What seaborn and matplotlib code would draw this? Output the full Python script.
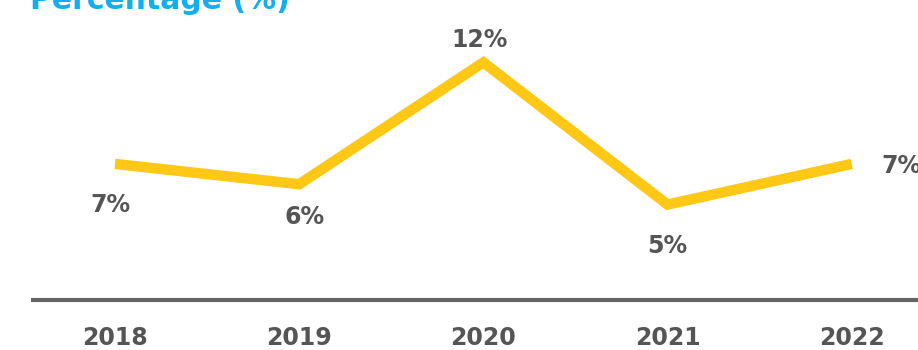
import matplotlib
matplotlib.use("Agg")
import matplotlib.pyplot as plt
import seaborn as sns
import pandas as pd

years = ["2018", "2019", "2020", "2021", "2022"]
values = [7, 6, 12, 5, 7]
labels = ["7%", "6%", "12%", "5%", "7%"]
# label offsets in pixels relative to each point
label_dx = [-5, 5, -4, 0, 50]
label_dy = [-41, -33, 22, -41, -2]

LINE = "#FFC815"
TEXT = "#555555"
TITLE = "#12AEEF"

sns.set_theme(style="white")
plt.rcParams["font.family"] = ["DejaVu Sans"]

fig = plt.figure(figsize=(9.18, 3.5), dpi=100)
ax = fig.add_axes([33 / 918, 50 / 350, 1 - 33 / 918, 300 / 350])

df = pd.DataFrame({"year": years, "value": values})
sns.lineplot(data=df, x="year", y="value", ax=ax, color=LINE, linewidth=7.5,
             solid_capstyle="butt", solid_joinstyle="miter")

for i, (v, lab) in enumerate(zip(values, labels)):
    ax.annotate(lab, (i, v), xytext=(label_dx[i], label_dy[i]),
                textcoords="offset pixels", ha="center", va="center",
                fontsize=17, fontweight="bold", color=TEXT)

ax.set_xlim(-0.445, 4.36)
ax.set_ylim(0.3, 15.07)
ax.set_xlabel("")
ax.set_ylabel("")
ax.set_yticks([])
for s in ["top", "left", "right"]:
    ax.spines[s].set_visible(False)
ax.spines["bottom"].set_color("#666666")
ax.spines["bottom"].set_linewidth(3)
ax.tick_params(axis="x", length=0, pad=19, labelsize=17, labelcolor=TEXT)
for t in ax.get_xticklabels():
    t.set_fontweight("bold")

fig.text(30 / 918, 1 - 9 / 350, "Percentage (%)", ha="left", va="baseline",
         fontsize=21.5, fontweight="bold", color=TITLE)

fig.savefig("out.png", dpi=100)
